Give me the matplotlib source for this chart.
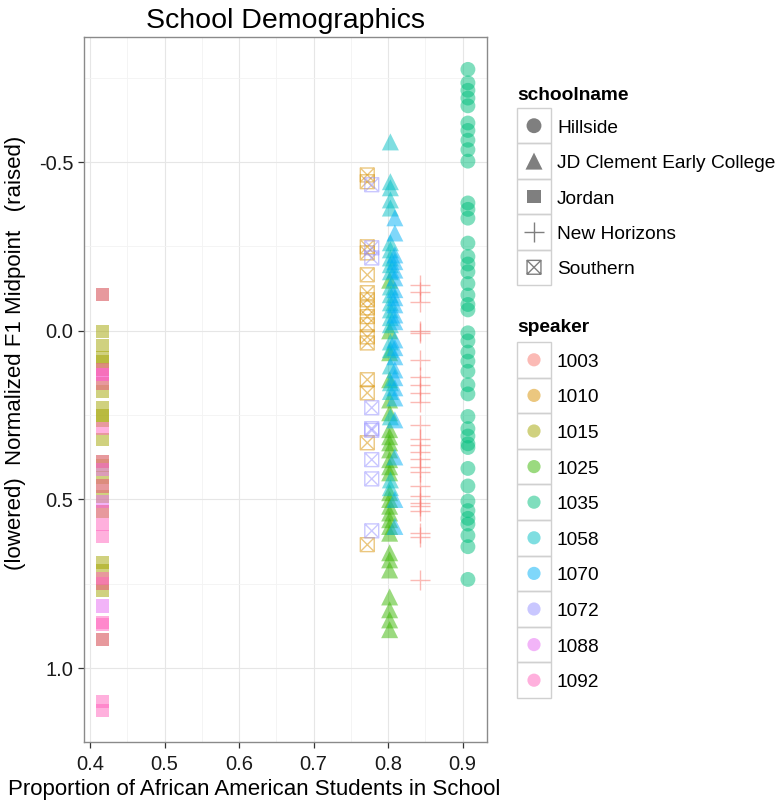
import numpy as np
import matplotlib
matplotlib.use("Agg")
import matplotlib.pyplot as plt
from matplotlib.path import Path
from matplotlib.colors import to_rgba
from matplotlib.patches import Rectangle
from matplotlib.ticker import FixedLocator, FixedFormatter, MultipleLocator

plt.rcParams['font.family'] = ['Liberation Sans', 'DejaVu Sans']
plt.rcParams['axes.unicode_minus'] = False

# ---------------- data ----------------
schools = ["Hillside", "JD Clement Early College", "Jordan", "New Horizons", "Southern"]
speakers = ["1003", "1010", "1015", "1025", "1035", "1058", "1070", "1072", "1088", "1092"]
speaker_colors = ["#F8766D", "#D89000", "#A3A500", "#39B600", "#00BF7D",
                  "#00BFC4", "#00B0F6", "#9590FF", "#E76BF3", "#FF62BC"]
speaker_school = ["New Horizons", "Southern", "Jordan", "JD Clement Early College", "Hillside",
                  "JD Clement Early College", "JD Clement Early College", "Southern", "Jordan", "Jordan"]
# proportion of African American students (x) per speaker
speaker_prop = [0.843, 0.772, 0.4165, 0.802, 0.907, 0.803, 0.809, 0.778, 0.4165, 0.4165]

f1_1003 = [-0.136, -0.115, -0.086, 0.0, 0.006, 0.086, 0.136, 0.16, 0.185, 0.21, 0.28, 0.32,
           0.34, 0.36, 0.38, 0.405, 0.42, 0.46, 0.49, 0.51, 0.52, 0.535, 0.60, 0.61, 0.74]
f1_1010 = [-0.462, -0.442, -0.249, -0.231, -0.166, -0.113, -0.092, -0.068, -0.042, -0.018,
           0.018, 0.036, 0.145, 0.184, 0.332, 0.634]
f1_1015 = [-0.107, 0.003, 0.044, 0.078, 0.092, 0.115, 0.155, 0.18, 0.228, 0.25, 0.265, 0.323,
           0.388, 0.40, 0.436, 0.46, 0.49, 0.535, 0.688, 0.71, 0.75, 0.77, 0.915]
f1_1025 = [-0.15, 0.0, 0.065, 0.145, 0.205, 0.243, 0.293, 0.314, 0.332, 0.353, 0.382, 0.403,
           0.421, 0.48, 0.50, 0.52, 0.54, 0.56, 0.58, 0.60, 0.658, 0.679, 0.709, 0.789, 0.827,
           0.857, 0.886]
f1_1035 = [-0.775, -0.735, -0.713, -0.69, -0.667, -0.616, -0.594, -0.565, -0.537, -0.503,
           -0.379, -0.36, -0.334, -0.26, -0.22, -0.198, -0.175, -0.14, -0.106, -0.078, -0.062,
           0.006, 0.03, 0.063, 0.09, 0.12, 0.16, 0.187, 0.254, 0.29, 0.312, 0.335, 0.346,
           0.408, 0.46, 0.505, 0.533, 0.556, 0.573, 0.607, 0.64, 0.737]
f1_1058 = [-0.56, -0.442, -0.424, -0.388, -0.364, -0.261, -0.24, -0.216, -0.196, -0.175,
           -0.13, -0.107, -0.083, -0.062, -0.039, -0.018, 0.033, 0.056, 0.104, 0.154, 0.18,
           0.255, 0.442, 0.465]
f1_1070 = [-0.335, -0.29, -0.225, -0.205, -0.18, -0.157, -0.122, -0.098, -0.077, -0.047,
           -0.027, 0.027, 0.05, 0.077, 0.116, 0.139, 0.169, 0.199, 0.264, 0.374, 0.50, 0.58]
f1_1072 = [-0.433, -0.246, -0.216, 0.228, 0.29, 0.295, 0.382, 0.439, 0.593]
f1_1088 = [0.13, 0.41, 0.505, 0.816]
f1_1092 = [-0.107, 0.115, 0.13, 0.155, 0.29, 0.388, 0.46, 0.535, 0.575, 0.61, 0.735, 0.75,
           0.865, 0.87, 0.915, 1.10, 1.125]
f1_values = [f1_1003, f1_1010, f1_1015, f1_1025, f1_1035, f1_1058, f1_1070, f1_1072,
             f1_1088, f1_1092]

x_ticks = [0.4, 0.5, 0.6, 0.7, 0.8, 0.9]
x_tick_labels = ["0.4", "0.5", "0.6", "0.7", "0.8", "0.9"]
y_ticks = [-0.5, 0.0, 0.5, 1.0]
y_tick_labels = ["-0.5", "0.0", "0.5", "1.0"]

# ---------------- styles ----------------
boxx = Path([(-1, -1), (1, -1), (1, 1), (-1, 1), (-1, -1), (-1, -1), (1, 1), (-1, 1), (1, -1)],
            [Path.MOVETO, Path.LINETO, Path.LINETO, Path.LINETO, Path.CLOSEPOLY,
             Path.MOVETO, Path.LINETO, Path.MOVETO, Path.LINETO])
school_marker = {"Hillside": ("o", 115, True), "JD Clement Early College": ("^", 150, True),
                 "Jordan": ("s", 90, True), "New Horizons": ("+", 200, False),
                 "Southern": (boxx, 100, False)}
ALPHA = 0.5

W, H = 780, 802
fig = plt.figure(figsize=(W / 100, H / 100), dpi=100)
L, R, T, B = 84, 487, 37, 742
ax = fig.add_axes([L / W, 1 - B / H, (R - L) / W, (B - T) / H])

for sp, col, sch, xp, ys in zip(speakers, speaker_colors, speaker_school, speaker_prop, f1_values):
    mk, sz, filled = school_marker[sch]
    xs = np.full(len(ys), xp)
    c = to_rgba(col, ALPHA)
    if filled:
        ax.scatter(xs, ys, marker=mk, s=sz, c=[c], edgecolors='none', zorder=3)
    elif mk is boxx:
        ax.scatter(xs, ys, marker=mk, s=sz, facecolors='none', edgecolors=[c],
                   linewidths=1.0, zorder=3)
    else:
        ax.scatter(xs, ys, marker=mk, s=sz, c=[c], linewidths=1.0, zorder=3)

ax.set_xlim(0.392, 0.9326)
ax.set_ylim(1.219, -0.871)
ax.xaxis.set_major_locator(FixedLocator(x_ticks))
ax.xaxis.set_major_formatter(FixedFormatter(x_tick_labels))
ax.yaxis.set_major_locator(FixedLocator(y_ticks))
ax.yaxis.set_major_formatter(FixedFormatter(y_tick_labels))
ax.xaxis.set_minor_locator(MultipleLocator(0.05))
ax.yaxis.set_minor_locator(MultipleLocator(0.25))
ax.grid(True, which='major', color='#E6E6E6', lw=0.8, zorder=0)
ax.grid(True, which='minor', color='#F3F3F3', lw=0.6, zorder=0)
ax.set_axisbelow(True)
ax.tick_params(which='major', direction='out', length=4.5, width=0.9, color='#333333',
               labelsize=14.5, labelcolor='#1A1A1A')
ax.tick_params(axis='x', which='major', pad=5)
ax.tick_params(axis='y', which='major', pad=3)
ax.tick_params(which='minor', length=0)
for s in ax.spines.values():
    s.set_color('#8A8A8A')
    s.set_linewidth(1.0)

fig.text(286 / W, 1 - 21 / H, "School Demographics", ha='center', va='center', fontsize=20.5)
fig.text(254 / W, 1 - 789 / H, "Proportion of African American Students in School",
         ha='center', va='center', fontsize=16)
fig.text(16 / W, 1 - 353 / H, "(lowered)  Normalized F1 Midpoint   (raised)",
         ha='center', va='center', rotation=90, fontsize=16)

# ---------------- legends (drawn in pixel space) ----------------
lg = fig.add_axes([0, 0, 1, 1], facecolor='none')
lg.set_xlim(0, W)
lg.set_ylim(H, 0)
lg.axis('off')

kx0, kw = 517, 34
lg.text(kx0, 100.5, "schoolname", fontsize=13.8, fontweight='bold', va='baseline', ha='left')
row_h = 35.4
for i, sch in enumerate(schools):
    top = 108 + i * row_h
    lg.add_patch(Rectangle((kx0, top), kw, row_h, fill=False, ec='#D0D0D0', lw=1.0))
    cy = top + row_h / 2
    mk, sz, filled = school_marker[sch]
    grey = to_rgba('black', ALPHA)
    if filled:
        lg.scatter([kx0 + kw / 2], [cy], marker=mk, s=sz, c=[grey], edgecolors='none')
    elif mk is boxx:
        lg.scatter([kx0 + kw / 2], [cy], marker=mk, s=sz, facecolors='none', edgecolors=[grey],
                   linewidths=1.0)
    else:
        lg.scatter([kx0 + kw / 2], [cy], marker=mk, s=sz, c=[grey], linewidths=1.0)
    lg.text(557, cy + 7, sch, fontsize=13.8, va='baseline', ha='left')

lg.text(kx0, 332.5, "speaker", fontsize=13.8, fontweight='bold', va='baseline', ha='left')
row_h2 = 35.6
for i, (sp, col) in enumerate(zip(speakers, speaker_colors)):
    top = 342 + i * row_h2
    lg.add_patch(Rectangle((kx0, top), kw, row_h2, fill=False, ec='#D0D0D0', lw=1.0))
    cy = top + row_h2 / 2
    lg.scatter([kx0 + kw / 2], [cy], marker='o', s=90, c=[to_rgba(col, ALPHA)], edgecolors='none')
    lg.text(557, cy + 7, sp, fontsize=13.8, va='baseline', ha='left')

fig.savefig("out.png", dpi=100, facecolor='white')
